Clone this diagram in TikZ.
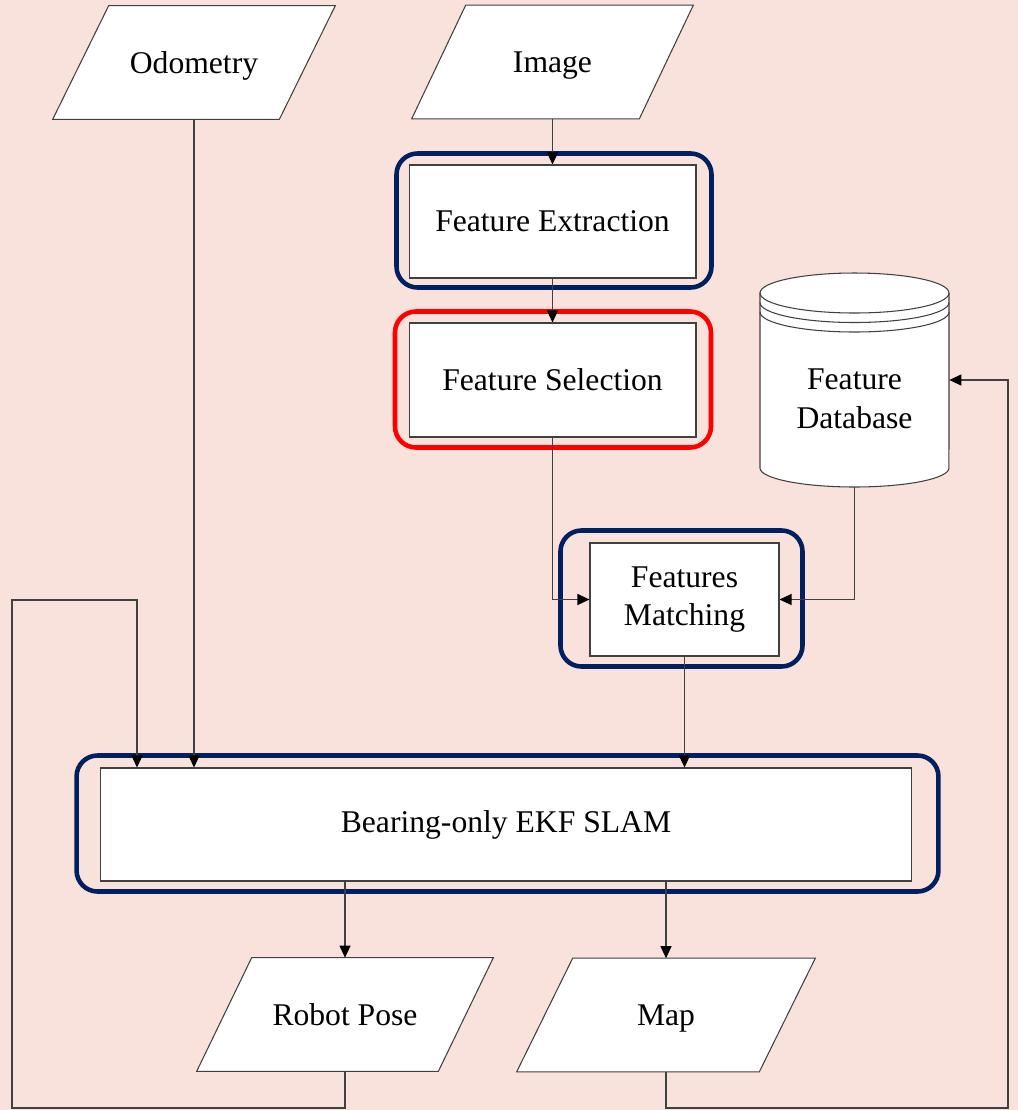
\documentclass[tikz,border=0pt]{standalone}
\usepackage{fontspec}
\setmainfont{Liberation Serif}
\usetikzlibrary{shapes,arrows.meta,backgrounds}
\definecolor{bgpink}{RGB}{250,226,220}
\definecolor{ringblue}{RGB}{0,32,96}
\definecolor{ringred}{RGB}{255,0,0}
\tikzset{
  box/.style={draw=black!75, fill=white, line width=0.6pt, inner sep=0pt, align=center, font=\fontsize{18}{22}\selectfont},
  iobox/.style={inner sep=0pt, align=center, font=\fontsize{18}{22}\selectfont, text depth=0pt, minimum height=2.26cm},
  iofill/.style={draw=black!75, fill=white, line width=0.6pt},
  arr/.style={draw=black!75, line width=0.6pt, -{Triangle[length=0.24cm,width=0.22cm,color=black]}},
  ring/.style={line width=2.6pt, rounded corners=0.42cm},
}
\newcommand{\iopoly}[2]{\filldraw[iofill] ([xshift=-#2]#1.south west) -- ([xshift=-#2]#1.south east) -- ([xshift=#2]#1.north east) -- ([xshift=#2]#1.north west) -- cycle;}
\begin{document}
\begin{tikzpicture}[x=0.02cm,y=-0.02cm]
\begin{scope}[on background layer]
\fill[bgpink] (0,0) rectangle (1018,1110);
\end{scope}
\useasboundingbox (0,0) rectangle (1018,1110);

\node[iobox, minimum width=4.52cm] (odo) at (194,62.5) {Odometry};
\node[iobox, minimum width=4.54cm] (img) at (552.5,62) {Image};
\node[box, minimum width=5.74cm, minimum height=2.26cm] (fe) at (552.5,221.5) {Feature Extraction};
\node[box, minimum width=5.74cm, minimum height=2.28cm] (fs) at (552.5,380) {Feature Selection};
\node[box, minimum width=3.78cm, minimum height=2.26cm] (fm) at (684.5,599.5) {Features\\Matching};
\node[box, minimum width=16.24cm, minimum height=2.26cm] (slam) at (506,824.5) {Bearing-only EKF SLAM};
\node[iobox, minimum width=4.82cm] (rp) at (345,1014.5) {Robot Pose};
\node[iobox, minimum width=4.84cm] (map) at (666,1015) {Map};

\begin{scope}[on background layer]
\iopoly{odo}{0.56cm}
\iopoly{img}{0.54cm}
\iopoly{rp}{0.55cm}
\iopoly{map}{0.56cm}
\end{scope}

\node[minimum width=3.78cm, minimum height=4.28cm, inner sep=0pt] (db) at (854.5,380) {};
\filldraw[fill=white, draw=black!75, line width=0.6pt] (760,293) -- (760,468)
  arc[start angle=180, end angle=360, x radius=1.89cm, y radius=0.38cm] -- (949,293)
  arc[start angle=0, end angle=180, x radius=1.89cm, y radius=0.4cm] -- cycle;
\draw[draw=black!75, line width=0.6pt] (760,293) arc[start angle=180, end angle=360, x radius=1.89cm, y radius=0.4cm];
\draw[draw=black!75, line width=0.6pt] (760,302.5) arc[start angle=180, end angle=360, x radius=1.89cm, y radius=0.4cm];
\draw[draw=black!75, line width=0.6pt] (760,312) arc[start angle=180, end angle=360, x radius=1.89cm, y radius=0.4cm];
\node[align=center, font=\fontsize{18}{22}\selectfont] (dbname) at (854.5,399) {Feature\\Database};

\draw[ring, ringblue] ([shift={(-12,-11)}]fe.north west) rectangle ([shift={(15,9)}]fe.south east);
\draw[ring, ringred] ([shift={(-13.5,-11)}]fs.north west) rectangle ([shift={(14.5,10)}]fs.south east);
\draw[ring, ringblue] ([shift={(-29,-12)}]fm.north west) rectangle ([shift={(23,10)}]fm.south east);
\draw[ring, ringblue] ([shift={(-23,-12)}]slam.north west) rectangle ([shift={(26,10)}]slam.south east);

\coordinate (fbtl) at (137,600);
\coordinate (fbbl) at (12,1108);
\coordinate (fbbr) at (1008,1108);

\draw[arr] (img.south) -- (fe.north);
\draw[arr] (fe.south) -- (fs.north);
\draw[arr] (fs.south) |- (fm.west);
\draw[arr] (db.south) |- (fm.east);
\draw[arr] (fm.south) -- (fm.south |- slam.north);
\draw[arr] (odo.south) -- (odo.south |- slam.north);
\draw[arr] (slam.south -| rp.north) -- (rp.north);
\draw[arr] (slam.south -| map.north) -- (map.north);
\draw[arr] (rp.south) |- (fbbl) |- (fbtl) -- (fbtl |- slam.north);
\draw[arr] (map.south) |- (fbbr) |- (db.east);
\end{tikzpicture}
\end{document}
